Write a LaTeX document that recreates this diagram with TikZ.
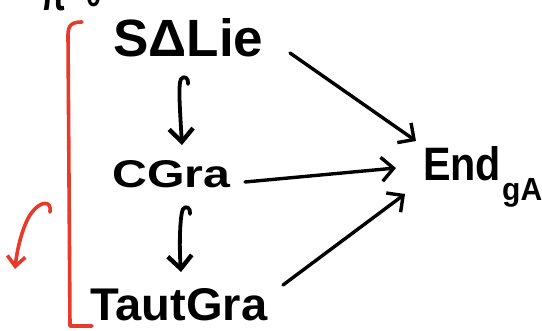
\documentclass[tikz,border=0pt]{standalone}
\usepackage{fontspec}
\setmainfont{Liberation Sans}
\usepackage{graphicx}
\usetikzlibrary{arrows.meta}
\definecolor{penred}{HTML}{E8392A}
\tikzset{
  word/.style={inner sep=0pt, anchor=base west, font=\bfseries},
  arr/.style={line width=3.4pt, line cap=round, line join=round, -{Straight Barb[length=12pt,width=24pt,line width=3.4pt]}},
  downarr/.style={line width=3.8pt, line cap=round, line join=round, -{Straight Barb[length=13pt,width=24pt,line width=4.4pt]}},
  redline/.style={penred, line width=3.6pt, line cap=round, line join=round},
}
\begin{document}
\begin{tikzpicture}[x=1pt,y=-1pt]
\useasboundingbox (0,0) rectangle (542,331);
% partial text at top, cut by the edge
\node[word] (top) at (40,11) {\resizebox{26pt}{24pt}{π}\hspace{20pt}\raisebox{4pt}{\resizebox{15pt}{22pt}{0}}};
% main nodes
\node[word] (slie) at (113,57) {\resizebox{150pt}{38pt}{SΔLie}};
\node[word] (cgra) at (112,188) {\resizebox{118pt}{27pt}{CGra}};
\node[word] (taut) at (90,321) {\resizebox{177pt}{32pt}{TautGra}};
\node[word] (end) at (423,181) {\resizebox{78pt}{34pt}{End}\hspace{1pt}\raisebox{-20pt}{\resizebox{40pt}{22pt}{gA}}};
% coordinates for connector ends
\coordinate (s1) at (290,53);
\coordinate (e1) at (416,141);
\coordinate (c1) at (245,182);
\coordinate (e2) at (396,168);
\coordinate (t1) at (283,285);
\coordinate (e3) at (405,194);
\coordinate (sd) at (188,84);
\coordinate (cu) at (182,145);
\coordinate (cd) at (190,214);
\coordinate (tu) at (181,272);
\draw[arr] (s1) -- (e1);
\draw[arr] (c1) -- (e2);
\draw[arr] (t1) -- (e3);
\draw[downarr] (sd) .. controls (189,78) and (184,75) .. (181,79) .. controls (178,85) and (180,110) .. (cu);
\draw[downarr] (cd) .. controls (191,208) and (186,205) .. (183,209) .. controls (180,215) and (179,245) .. (tu);
% red bracket
\coordinate (b0) at (82,22);
\coordinate (b1) at (70,326);
\coordinate (b2) at (92,326);
\draw[redline] (b0) .. controls (72,22) and (68,25) .. (68,35) -- (b1) -- (b2);
% red curved arrow
\coordinate (r0) at (50,212);
\coordinate (r1) at (15,269);
\draw[redline, -{Straight Barb[length=10pt,width=18pt,line width=3.6pt]}] (r0) .. controls (52,200) and (40,200) .. (30,215) .. controls (22,228) and (17,250) .. (r1);
\end{tikzpicture}
\end{document}
